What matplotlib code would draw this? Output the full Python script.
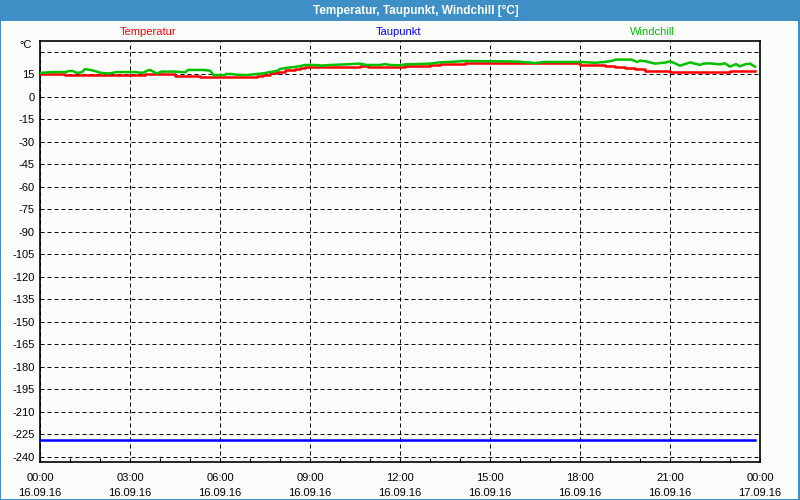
import matplotlib
matplotlib.use("Agg")
import matplotlib.pyplot as plt
from matplotlib.patches import Rectangle

plt.rcParams['font.family'] = ['Liberation Sans', 'DejaVu Sans']
plt.rcParams['axes.unicode_minus'] = False

# ---- data (hours since 16.09.16 00:00) ----
temp_t = [0.0, 0.83, 3.5, 4.5, 5.33, 7.22, 7.44, 7.67, 7.89, 8.17, 8.5, 8.67, 8.83,
          10.17, 10.67, 10.94, 12.17, 13.0, 13.33, 13.83, 14.17, 16.5, 18.0, 18.83,
          19.17, 19.5, 19.83, 20.17, 21.0, 23.0, 23.83]
temp_v = [15.2, 14.5, 14.9, 14.1, 13.0, 13.8, 14.7, 16.1, 16.5, 17.6, 18.5, 19.2, 19.6,
          20.1, 20.5, 20.1, 20.8, 21.2, 21.6, 22.1, 22.8, 22.3, 21.2, 20.5,
          19.9, 19.2, 18.3, 17.2, 16.8, 17.4, 17.4]

wind_t = [0.0, 0.39, 0.89, 0.95, 1.1, 1.2, 1.33, 1.4, 1.5, 1.67, 1.83, 2.0, 2.2, 2.33,
          2.45, 2.55, 3.2, 3.3, 3.45, 3.55, 3.67, 3.8, 3.9, 4.05, 4.5, 4.83, 4.94,
          5.44, 5.67, 5.78, 6.17, 6.2, 6.39, 6.56, 6.89, 7.22, 7.44, 7.67, 7.89, 8.0,
          8.17, 8.5, 8.67, 8.83, 9.17, 9.39, 9.67, 10.17, 10.67, 10.89, 11.33, 11.5,
          11.67, 12.0, 12.17, 13.0, 13.33, 13.83, 14.17, 15.9, 16.5, 16.83, 18.0,
          18.5, 18.83, 19.05, 19.2, 19.7, 19.83, 19.9, 20.0, 20.2, 20.5, 20.83, 21.0,
          21.17, 21.33, 21.5, 21.67, 21.83, 22.0, 22.1, 22.33, 22.67, 22.83, 23.0,
          23.2, 23.33, 23.5, 23.67, 23.83]
wind_v = [15.9, 16.5, 16.5, 17.2, 17.2, 16.1, 16.1, 16.5, 18.5, 17.9, 17.2, 16.1, 15.6, 15.6,
          16.1, 16.5, 16.5, 16.1, 16.1, 17.2, 17.9, 16.5, 15.6, 16.8, 16.8, 16.3, 17.9,
          17.9, 17.4, 14.5, 14.5, 15.2, 15.2, 14.7, 14.5, 15.2, 15.6, 16.5, 17.2, 18.5,
          19.2, 19.9, 20.5, 21.2, 21.2, 20.8, 21.2, 21.6, 22.1, 21.2, 21.2, 21.8,
          21.2, 21.0, 21.6, 22.1, 23.0, 23.4, 23.9, 23.5, 22.5, 23.2, 23.2,
          22.7, 23.2, 23.9, 24.8, 24.8, 23.9, 23.2, 24.1, 23.6, 22.1, 22.8, 23.6,
          22.3, 20.7, 21.8, 22.9, 22.1, 21.2, 22.1, 22.3, 21.6, 22.3, 20.1,
          21.8, 20.3, 21.6, 22.1, 20.1]

dew_t = [0.0, 23.83]
dew_v = [-228.6, -228.6]

y_ticks = list(range(-240, 31, 15))
x_ticks = list(range(0, 25, 3))
x_labels = ["00:00\n16.09.16", "03:00\n16.09.16", "06:00\n16.09.16", "09:00\n16.09.16",
            "12:00\n16.09.16", "15:00\n16.09.16", "18:00\n16.09.16", "21:00\n16.09.16",
            "00:00\n17.09.16"]
series_names = ["Temperatur", "Taupunkt", "Windchill"]
series_colors = ["#ff0000", "#0000ff", "#00c000"]
title = "Temperatur, Taupunkt, Windchill [°C]"

W, H = 800, 500
BLUE = "#3d8fc6"
BG = "#fbfdfb"

fig = plt.figure(figsize=(8, 5), dpi=100)
fig.patch.set_facecolor(BLUE)
fig.add_artist(Rectangle((1 / W, 1 / H), (W - 3) / W, (H - 1 - 21) / H,
                         transform=fig.transFigure, facecolor=BG, edgecolor='none', zorder=0))
fig.text(416 / W, 1 - 10.5 / H, title, color='white', fontsize=8.5, fontweight='bold',
         ha='center', va='center')

legend_x = [148, 399, 652]
for name, col, lx in zip(series_names, series_colors, legend_x):
    fig.text(lx / W, 1 - 32 / H, name, color=col, fontsize=8, ha='center', va='center')
fig.text(26 / W, 1 - 45 / H, "°C", color='black', fontsize=8, ha='center', va='center')

ax = fig.add_axes([40 / W, 38 / H, 720 / W, 421.3 / H])
ax.set_facecolor(BG)
ax.set_xlim(0, 24)
ax.set_ylim(-243.5, 37.4)

ax.set_yticks(y_ticks)
ax.set_yticklabels([str(v) if v != 30 else "" for v in y_ticks])
ax.set_xticks(x_ticks)
ax.set_xticklabels(x_labels)
ax.set_xticks(range(0, 25), minor=True)
ax.tick_params(axis='y', length=0, pad=4, labelsize=8)
ax.tick_params(axis='x', which='both', direction='in', length=3, width=0.8,
               pad=8, labelsize=8, top=False)
for lbl in ax.get_xticklabels():
    lbl.set_linespacing(1.6)

ax.grid(True, which='major', color='black', linewidth=0.72, linestyle=(0, (4, 3)))
for s in ax.spines.values():
    s.set_linewidth(1.2)
    s.set_color('black')

ax.plot(dew_t, dew_v, color=series_colors[1], lw=1.8, zorder=3)
ax.plot(temp_t, temp_v, color=series_colors[0], lw=1.8, drawstyle='steps-post', zorder=3)
ax.plot(wind_t, wind_v, color=series_colors[2], lw=1.8, zorder=4)

fig.savefig("out.png", dpi=100, facecolor=fig.get_facecolor())
